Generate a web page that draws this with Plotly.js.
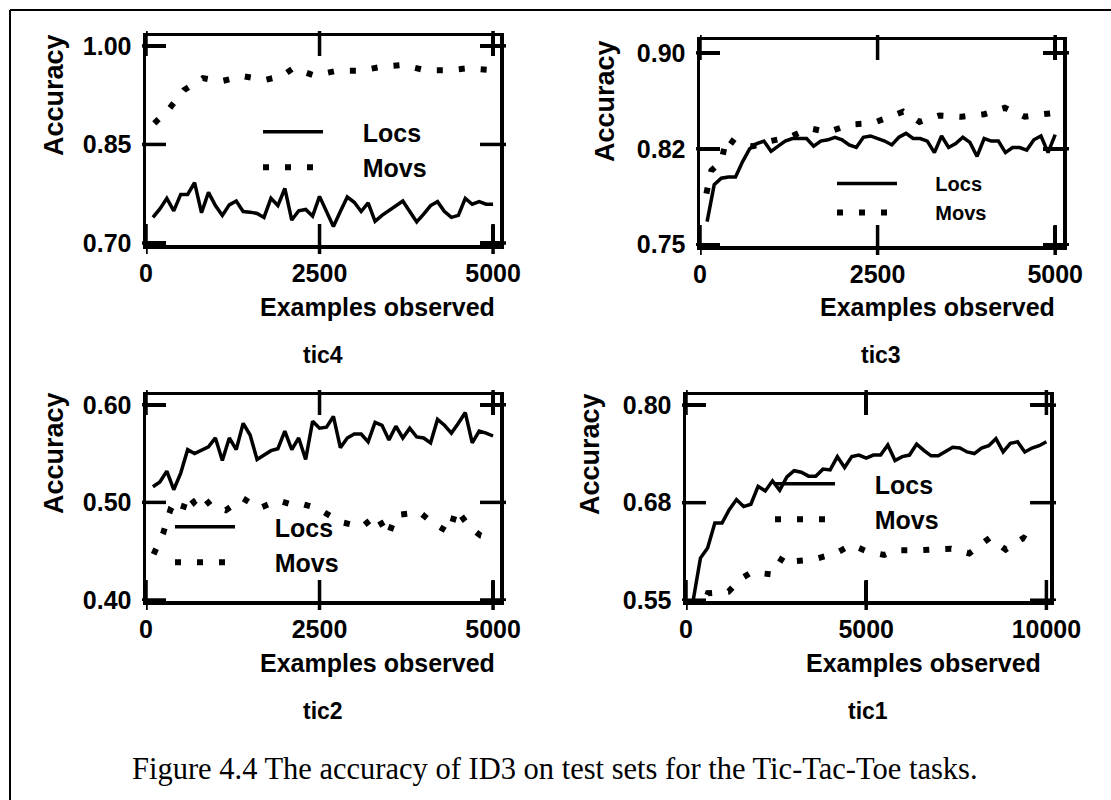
<!DOCTYPE html>
<html><head><meta charset="utf-8">
<script src="https://cdn.plot.ly/plotly-3.0.1.min.js"></script>
<style>html,body{margin:0;padding:0;background:#fff;} #chart{width:1111px;height:800px;}</style>
</head><body><div id="chart"></div>
<script>
// ---------- data: tic4 ----------
const tic4_x = [100,200,300,400,500,600,700,800,900,1000,1100,1200,1300,1400,1500,1600,1700,1800,1900,2000,2100,2200,2300,2400,2500,2600,2700,2800,2900,3000,3100,3200,3300,3400,3500,3600,3700,3800,3900,4000,4100,4200,4300,4400,4500,4600,4700,4800,4900,5000];
const tic4_locs = [0.739,0.752,0.768,0.749,0.774,0.774,0.792,0.746,0.777,0.757,0.742,0.758,0.764,0.748,0.747,0.745,0.739,0.768,0.757,0.783,0.735,0.749,0.751,0.741,0.771,0.749,0.725,0.748,0.770,0.762,0.748,0.761,0.733,0.742,0.749,0.757,0.764,0.748,0.732,0.744,0.757,0.763,0.748,0.739,0.742,0.768,0.759,0.763,0.759,0.759];
const tic4_movs_x = [120,340,550,820,1080,1390,1710,1960,2120,2420,2750,3070,3390,3700,4020,4350,4650,4990];
const tic4_movs = [0.882,0.905,0.933,0.951,0.946,0.954,0.948,0.954,0.966,0.955,0.962,0.962,0.968,0.971,0.963,0.963,0.966,0.963];

// ---------- data: tic3 ----------
const tic3_x = [100,200,300,400,500,600,700,800,900,1000,1100,1200,1300,1400,1500,1600,1700,1800,1900,2000,2100,2200,2300,2400,2500,2600,2700,2800,2900,3000,3100,3200,3300,3400,3500,3600,3700,3800,3900,4000,4100,4200,4300,4400,4500,4600,4700,4800,4900,5000];
const tic3_locs = [0.768,0.797,0.802,0.803,0.803,0.815,0.825,0.829,0.831,0.823,0.827,0.831,0.833,0.833,0.833,0.827,0.831,0.832,0.834,0.832,0.828,0.826,0.834,0.835,0.833,0.831,0.828,0.834,0.837,0.833,0.833,0.831,0.822,0.835,0.826,0.829,0.834,0.830,0.819,0.833,0.831,0.831,0.822,0.826,0.826,0.824,0.832,0.835,0.822,0.836];
const tic3_movs_x = [90,160,300,375,520,750,990,1260,1540,1800,2120,2430,2720,2860,3090,3370,3680,4000,4290,4570,4830,4990];
const tic3_movs = [0.790,0.808,0.815,0.834,0.828,0.827,0.831,0.834,0.841,0.838,0.844,0.845,0.851,0.854,0.846,0.851,0.850,0.852,0.857,0.850,0.852,0.853];

// ---------- data: tic2 ----------
const tic2_x = [100,200,300,400,500,600,700,800,900,1000,1100,1200,1300,1400,1500,1600,1700,1800,1900,2000,2100,2200,2300,2400,2500,2600,2700,2800,2900,3000,3100,3200,3300,3400,3500,3600,3700,3800,3900,4000,4100,4200,4300,4400,4500,4600,4700,4800,4900,5000];
const tic2_locs = [0.516,0.521,0.532,0.513,0.530,0.554,0.550,0.554,0.557,0.566,0.543,0.566,0.554,0.581,0.569,0.544,0.549,0.553,0.555,0.573,0.554,0.566,0.544,0.583,0.576,0.577,0.588,0.556,0.566,0.570,0.570,0.562,0.582,0.579,0.564,0.578,0.566,0.576,0.567,0.566,0.561,0.585,0.579,0.571,0.581,0.592,0.561,0.573,0.571,0.568];
const tic2_movs_x = [110,250,350,500,600,690,800,940,1150,1400,1630,1900,2130,2270,2470,2800,3110,3320,3490,3600,3940,4130,4370,4470,4660,4820,4990];
const tic2_movs = [0.447,0.469,0.492,0.486,0.508,0.500,0.508,0.496,0.492,0.504,0.494,0.502,0.497,0.498,0.494,0.480,0.475,0.487,0.466,0.487,0.490,0.479,0.469,0.493,0.475,0.466,0.463];

// ---------- data: tic1 ----------
const tic1_x = [200,400,600,800,1000,1200,1400,1600,1800,2000,2200,2400,2600,2800,3000,3200,3400,3600,3800,4000,4200,4400,4600,4800,5000,5200,5400,5600,5800,6000,6200,6400,6600,6800,7000,7200,7400,7600,7800,8000,8200,8400,8600,8800,9000,9200,9400,9600,9800,10000];
const tic1_locs = [0.550,0.604,0.617,0.649,0.649,0.666,0.679,0.670,0.673,0.696,0.690,0.703,0.691,0.708,0.716,0.714,0.709,0.709,0.718,0.717,0.734,0.720,0.734,0.736,0.732,0.736,0.736,0.749,0.729,0.734,0.736,0.750,0.742,0.735,0.735,0.740,0.746,0.745,0.740,0.738,0.745,0.748,0.757,0.740,0.751,0.753,0.740,0.745,0.748,0.753];
const tic1_movs_x = [400,610,1180,1510,1820,2390,2710,3040,3520,4150,4590,5000,5500,5850,6320,6820,7360,7860,8430,8870,9370,9690];
const tic1_movs = [0.530,0.559,0.561,0.577,0.586,0.583,0.607,0.600,0.602,0.610,0.621,0.613,0.608,0.614,0.614,0.615,0.616,0.610,0.630,0.615,0.630,0.621];

// ---------- labels ----------
const seriesNames = ['Locs','Movs'];
const panelTitles = ['tic4','tic3','tic2','tic1'];
const xTitle = 'Examples observed';
const yTitle = 'Accuracy';
const xTicks5k = [0,2500,5000];
const xTickText5k = ['0','2500','5000'];
const xTicks10k = [0,5000,10000];
const xTickText10k = ['0','5000','10000'];
const yTicks = [[0.70,0.85,1.00],[0.75,0.825,0.90],[0.40,0.50,0.60],[0.55,0.675,0.80]];
const yTickText = [['0.70','0.85','1.00'],['0.75','0.82','0.90'],['0.40','0.50','0.60'],['0.55','0.68','0.80']];
const caption = 'Figure 4.4 The accuracy of ID3 on test sets for the Tic-Tac-Toe tasks.';

// ---------- layout helpers ----------
const W = 1111, H = 800;
const FONT = 'Liberation Sans, Arial, sans-serif';
const px = v => v / W;
const py = v => 1 - v / H;
const pad = k => '\u00a0'.repeat(k);
const TXT = (size) => ({family:FONT, size:size, color:'#000', weight:'bold'});

const panels = [
  {xs: tic4_x, locs: tic4_locs, mx: tic4_movs_x, movs: tic4_movs, xd:[146,500], yd:[245,36], xr:[0,5100], yr:[0.697,1.015], xt:xTicks5k, xtt:xTickText5k, leg:[258,109], legSize:25, legPad:5},
  {xs: tic3_x, locs: tic3_locs, mx: tic3_movs_x, movs: tic3_movs, xd:[700,1063], yd:[246,40], xr:[0,5110], yr:[0.749,0.910], xt:xTicks5k, xtt:xTickText5k, leg:[832,164], legSize:20, legPad:6},
  {xs: tic2_x, locs: tic2_locs, mx: tic2_movs_x, movs: tic2_movs, xd:[146,500], yd:[601,395], xr:[0,5100], yr:[0.399,0.610], xt:xTicks5k, xtt:xTickText5k, leg:[170,504], legSize:25, legPad:5},
  {xs: tic1_x, locs: tic1_locs, mx: tic1_movs_x, movs: tic1_movs, xd:[686,1050], yd:[601,395], xr:[0,10100], yr:[0.549,0.813], xt:xTicks10k, xtt:xTickText10k, leg:[770,461], legSize:25, legPad:5}
];
const yTitlePos = [[54,95],[605,101],[54,453],[590,454]];
const xTitlePos = [[377,307],[937,307],[377,663],[923,663]];
const subPos = [[323,355],[881,355],[323,711],[868,711]];

const data = [];
const layout = {
  width: W, height: H, margin:{l:0,r:0,t:0,b:0},
  paper_bgcolor:'#fff', plot_bgcolor:'rgba(0,0,0,0)',
  showlegend:true, annotations:[], shapes:[]
};

const TICKW = 3.5;
panels.forEach((p, i) => {
  const n = i + 1;
  const xa = 'x' + n, ya = 'y' + n;
  const legName = n === 1 ? 'legend' : 'legend' + n;
  data.push({x:p.xs, y:p.locs, xaxis:xa, yaxis:ya, mode:'lines', name:pad(p.legPad) + seriesNames[0], legend:legName,
             line:{color:'#000', width:3.5}});
  data.push({x:p.mx, y:p.movs, xaxis:xa, yaxis:ya, mode:'lines', name:pad(p.legPad) + seriesNames[1], legend:legName,
             line:{color:'#000', width:6, dash:'6px,16px'}});
  const common = {showgrid:false, zeroline:false, fixedrange:true, tickmode:'array', tickcolor:'#000', tickwidth:TICKW,
    ticks:'inside', ticklen:20, mirror:'ticks', showline:true, linewidth:3.5, linecolor:'#000'};
  layout['xaxis' + n] = Object.assign({}, common, {
    domain:[px(p.xd[0]), px(p.xd[1])], range:p.xr, anchor:ya, tickvals:p.xt, ticktext:p.xtt,
    tickfont:TXT(25), ticklabelstandoff:3});
  layout['yaxis' + n] = Object.assign({}, common, {
    domain:[py(p.yd[0]), py(p.yd[1])], range:p.yr, anchor:xa, tickvals:yTicks[i], ticktext:yTickText[i],
    tickfont:TXT(25), ticklabelstandoff:6});
  // crossing tick marks on all four sides, placed on the axes' own scales
  p.xt.forEach(v => {
    layout.shapes.push({type:'line', xref:xa, yref:ya + ' domain', x0:v, x1:v, ysizemode:'pixel', yanchor:0, y0:-9, y1:21,
      line:{color:'#000', width:TICKW}});
    layout.shapes.push({type:'line', xref:xa, yref:ya + ' domain', x0:v, x1:v, ysizemode:'pixel', yanchor:1, y0:5, y1:-20,
      line:{color:'#000', width:TICKW}});
  });
  yTicks[i].forEach(v => {
    layout.shapes.push({type:'line', xref:xa + ' domain', yref:ya, y0:v, y1:v, xsizemode:'pixel', xanchor:0, x0:-4, x1:20,
      line:{color:'#000', width:TICKW}});
    layout.shapes.push({type:'line', xref:xa + ' domain', yref:ya, y0:v, y1:v, xsizemode:'pixel', xanchor:1, x0:6, x1:-20,
      line:{color:'#000', width:TICKW}});
  });
  layout[legName] = {x:px(p.leg[0]), y:py(p.leg[1]), xanchor:'left', yanchor:'top', bgcolor:'rgba(0,0,0,0)',
    borderwidth:0, itemwidth:60, font:TXT(p.legSize), tracegroupgap:0};
  layout.annotations.push({text:yTitle, xref:'paper', yref:'paper', x:px(yTitlePos[i][0]), y:py(yTitlePos[i][1]),
    textangle:-90, showarrow:false, xanchor:'center', yanchor:'middle', font:TXT(27)});
  layout.annotations.push({text:xTitle, xref:'paper', yref:'paper', x:px(xTitlePos[i][0]), y:py(xTitlePos[i][1]),
    showarrow:false, xanchor:'center', yanchor:'middle', font:TXT(25)});
  layout.annotations.push({text:panelTitles[i], xref:'paper', yref:'paper', x:px(subPos[i][0]), y:py(subPos[i][1]),
    showarrow:false, xanchor:'center', yanchor:'middle', font:TXT(23)});
});

layout.annotations.push({text:caption, xref:'paper', yref:'paper', x:px(555), y:py(769), showarrow:false,
  xanchor:'center', yanchor:'middle', font:{family:'Liberation Serif, Times New Roman, serif', size:30.5, color:'#000'}});
// outer figure frame (top and left edges)
layout.shapes.push({type:'line', xref:'paper', yref:'paper', x0:px(10), x1:1, y0:py(10), y1:py(10), line:{color:'#000', width:2}});
layout.shapes.push({type:'line', xref:'paper', yref:'paper', x0:px(10), x1:px(10), y0:py(10), y1:0, line:{color:'#000', width:2}});

Plotly.newPlot('chart', data, layout, {displayModeBar:false, staticPlot:true});
</script>
</body></html>
